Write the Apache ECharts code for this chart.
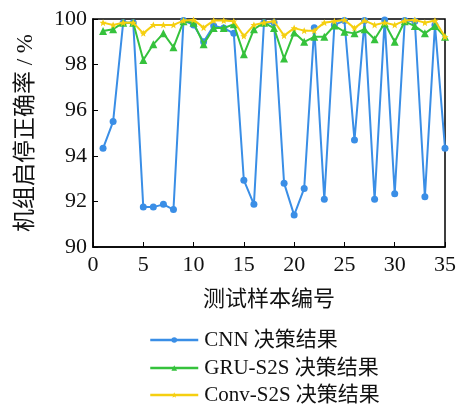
<!DOCTYPE html>
<html><head><meta charset="utf-8">
<script src="https://cdn.jsdelivr.net/npm/echarts@6/dist/echarts.min.js"></script>
<style>html,body{margin:0;padding:0;background:#fff}#c{width:460px;height:405px}</style>
</head><body><div id="c"></div>
<script>
const samples = [1,2,3,4,5,6,7,8,9,10,11,12,13,14,15,16,17,18,19,20,21,22,23,24,25,26,27,28,29,30,31,32,33,34,35];
const cnn = [94.33,95.5,99.84,99.84,91.75,91.75,91.87,91.64,99.93,99.74,99.0,99.7,99.6,99.37,92.93,91.87,99.84,99.84,92.8,91.4,92.57,99.62,92.09,99.74,99.93,94.69,99.93,92.09,99.96,92.34,99.93,99.9,92.2,99.74,94.33];
const gru = [99.47,99.55,99.84,99.84,98.2,98.89,99.37,98.76,99.9,99.84,98.89,99.6,99.6,99.77,98.45,99.55,99.84,99.6,98.27,99.41,99.0,99.22,99.22,99.71,99.44,99.37,99.55,99.11,99.81,99.0,99.9,99.69,99.37,99.69,99.22];
const conv = [99.84,99.74,99.84,99.84,99.37,99.74,99.74,99.74,99.93,99.96,99.62,99.93,99.93,99.9,99.25,99.74,99.84,99.9,99.27,99.6,99.49,99.49,99.84,99.9,99.96,99.6,99.93,99.74,99.84,99.74,99.93,99.96,99.84,99.93,99.22];
const names = ['CNN 决策结果','GRU-S2S 决策结果','Conv-S2S 决策结果'];
const xTicks = {min:0,max:35,interval:5};
const yTicks = {min:90,max:100,interval:2};

const FONT = "Liberation Serif, Times New Roman, Noto Sans CJK SC, serif";
const chart = echarts.init(document.getElementById('c'));
const pair = arr => samples.map((s,i)=>[s,arr[i]]);
const legendTops = [329, 357, 384];
chart.setOption({
  animation:false,
  textStyle:{fontFamily:FONT,color:'#111'},
  grid:{left:93,right:15,top:19,bottom:158,show:true,borderColor:'#000',borderWidth:1.5},
  legend: names.map((n,i)=>({orient:'horizontal',left:149,top:legendTops[i],padding:0,itemWidth:48,itemHeight:7,
    lineStyle:{width:2.5},
    textStyle:{fontFamily:FONT,fontSize:21,lineHeight:22,color:'#111',padding:[0,0,0,1]},data:[n]})),
  xAxis:{type:'value',min:xTicks.min,max:xTicks.max,interval:xTicks.interval,
    name:'测试样本编号',nameLocation:'middle',nameGap:42,
    nameTextStyle:{fontFamily:FONT,fontSize:22,color:'#111'},
    axisLine:{show:true,lineStyle:{color:'#000',width:1.5}},
    axisTick:{show:true,inside:true,length:5,lineStyle:{color:'#000'}},
    axisLabel:{fontFamily:FONT,fontSize:22,color:'#111',margin:7},
    splitLine:{show:false}},
  yAxis:{type:'value',min:yTicks.min,max:yTicks.max,interval:yTicks.interval,
    name:'机组启停正确率 / %',nameLocation:'middle',nameGap:56,
    nameTextStyle:{fontFamily:FONT,fontSize:23,color:'#111'},
    axisLine:{show:true,lineStyle:{color:'#000',width:1.5}},
    axisTick:{show:true,inside:true,length:5,lineStyle:{color:'#000'}},
    axisLabel:{fontFamily:FONT,fontSize:22,color:'#111',margin:6},
    splitLine:{show:false}},
  series:[
    {name:names[0],type:'line',data:pair(cnn),color:'#3a8ee6',symbol:'circle',symbolSize:7,
     lineStyle:{width:2},z:3},
    {name:names[1],type:'line',data:pair(gru),color:'#35c23c',symbol:'triangle',symbolSize:8,
     lineStyle:{width:2},z:4},
    {name:names[2],type:'line',data:pair(conv),color:'#f5cf10',
     symbol:'path://M0,-10 L2.9,-3.1 L9.5,-3.1 L4.3,1.2 L5.9,8.1 L0,4 L-5.9,8.1 L-4.3,1.2 L-9.5,-3.1 L-2.9,-3.1 Z',
     symbolSize:7,lineStyle:{width:2},z:5}
  ]
});
</script></body></html>
